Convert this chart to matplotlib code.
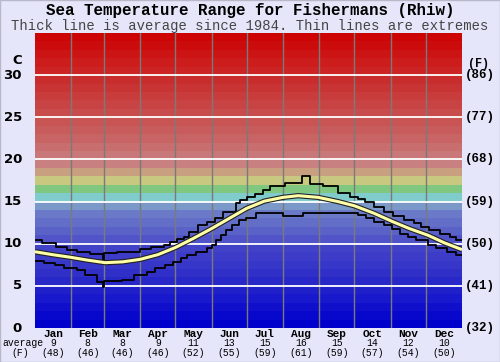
import matplotlib
matplotlib.use("Agg")
import matplotlib.pyplot as plt
import matplotlib.patheffects as pe
from matplotlib.patches import Rectangle

# ---------------- data ----------------
months = ["Jan", "Feb", "Mar", "Apr", "May", "Jun", "Jul", "Aug", "Sep", "Oct", "Nov", "Dec"]
month_avg_c = ["9", "8", "8", "9", "11", "13", "15", "16", "15", "14", "12", "10"]
month_avg_f = ["(48)", "(46)", "(46)", "(46)", "(52)", "(55)", "(59)", "(61)", "(59)", "(57)", "(54)", "(50)"]
month_starts = [0, 31, 59, 90, 120, 151, 181, 212, 243, 273, 304, 334, 365]

c_ticks = [0, 5, 10, 15, 20, 25, 30]
f_labels = ["(32)", "(41)", "(50)", "(59)", "(68)", "(77)", "(86)"]

max_days = [0, 6, 18, 27, 36, 47, 58, 59, 70, 90, 99, 110, 115, 121, 127, 132, 139, 147, 154,
            161, 172, 175, 181, 188, 195, 201, 214, 228, 235, 246, 259, 269, 276, 282, 290,
            298, 306, 315, 324, 330, 337, 346, 355, 360, 365]
max_vals = [10.4, 10.1, 9.6, 9.25, 9.05, 8.8, 8.1, 8.85, 9.05, 9.35, 9.6, 9.9, 10.2, 10.6, 10.8,
            11.4, 12.2, 12.6, 13.1, 13.8, 14.8, 15.2, 15.6, 15.9, 16.4, 16.9, 17.2, 18.0, 17.1,
            16.85, 16.05, 15.6, 15.3, 15.0, 14.4, 13.8, 13.3, 12.8, 12.4, 12.0, 11.6, 11.2,
            10.8, 10.5, 10.5]

min_days = [0, 8, 17, 25, 36, 43, 53, 58, 59, 74, 85, 96, 103, 111, 118, 125, 130, 138, 147,
            151, 155, 159, 163, 168, 174, 180, 189, 212, 229, 246, 276, 283, 290, 298, 305,
            312, 319, 326, 336, 343, 352, 360, 365]
min_vals = [7.9, 7.7, 7.45, 7.1, 6.9, 6.3, 5.5, 4.9, 5.6, 5.75, 6.3, 6.6, 7.1, 7.45, 7.85, 8.25,
            8.65, 9.05, 9.45, 9.85, 10.4, 11.0, 11.6, 12.2, 12.8, 13.1, 13.6, 13.3, 13.7, 13.6,
            13.35, 13.0, 12.6, 12.2, 11.7, 11.2, 10.8, 10.4, 9.9, 9.45, 9.05, 8.65, 8.65]

avg_days = [0, 15, 30, 45, 60, 75, 90, 105, 120, 135, 151, 166, 181, 196, 212, 225, 242, 259,
            273, 290, 306, 320, 336, 350, 365]
avg_vals = [9.05, 8.7, 8.4, 8.05, 7.75, 7.85, 8.15, 8.7, 9.55, 10.6, 11.8, 13.0, 14.2, 15.05,
            15.5, 15.7, 15.5, 15.0, 14.5, 13.6, 12.6, 11.8, 11.0, 10.1, 9.3]

# band colours (1 degree each, 0..35)
band_rgb = [
    (0, 0, 204), (8, 8, 204), (16, 16, 204), (24, 24, 204), (32, 32, 202), (40, 40, 200),
    (48, 48, 200), (54, 54, 200), (60, 60, 200), (66, 66, 200), (80, 84, 200), (90, 98, 200),
    (98, 110, 200), (106, 122, 200), (122, 152, 200), (128, 204, 204), (128, 200, 128),
    (200, 200, 128), (200, 160, 128), (200, 128, 128), (200, 120, 120), (200, 110, 110),
    (200, 100, 100), (200, 92, 92), (200, 84, 84), (200, 76, 76), (200, 68, 68), (200, 60, 60),
    (200, 52, 52), (200, 44, 44), (204, 36, 36), (204, 28, 28), (204, 20, 20), (204, 12, 12),
    (204, 4, 4), (204, 0, 0),
]

# ---------------- figure ----------------
bg = "#e6e6fa"
fig = plt.figure(figsize=(5.0, 3.62), dpi=100, facecolor=bg)
ax = fig.add_axes([35 / 500, 34 / 362, 427 / 500, 295 / 362])
ax.set_xlim(0, 365)
ax.set_ylim(0, 35)
ax.axis("off")

for i, (r, g, b) in enumerate(band_rgb[:35]):
    ax.axhspan(i, i + 1, color=(r / 255, g / 255, b / 255), lw=0, zorder=0)

for d in month_starts[1:-1]:
    ax.axvline(d, color="#7a7a7a", lw=1.0, zorder=1)
for t in c_ticks[1:]:
    ax.axhline(t, color="white", lw=1.3, zorder=1)

ax.plot(max_days, max_vals, drawstyle="steps-post", color="black", lw=1.3, zorder=3)
ax.plot(min_days, min_vals, drawstyle="steps-post", color="black", lw=1.3, zorder=3)
ax.plot(avg_days, avg_vals, color="#ffffa8", lw=2.2, zorder=4, solid_capstyle="butt",
        path_effects=[pe.Stroke(linewidth=3.8, foreground="#222222"), pe.Normal()])

mono = ["Liberation Mono", "DejaVu Sans Mono"]

# titles
fig.text(0.5, 1 - 11 / 362, "Sea Temperature Range for Fishermans (Rhiw)", ha="center",
         va="center", family=mono, weight="bold", fontsize=11.4, color="black")
fig.text(0.5, 1 - 26 / 362, "Thick line is average since 1984. Thin lines are extremes",
         ha="center", va="center", family=mono, fontsize=10.0, color="#444444")

# y-axis labels
for t in c_ticks:
    y = ax.transData.transform((0, t))[1]
    fig.text(22 / 500, y / (fig.dpi * 3.62), str(t), ha="right", va="center",
             family="DejaVu Sans", fontsize=9.5, weight="bold", color="black")
fig.text(17 / 500, 1 - 61 / 362, "C", ha="center", va="center", family="DejaVu Sans",
         fontsize=9.5, weight="bold", color="black")
for t, lab in zip(c_ticks, f_labels):
    y = ax.transData.transform((0, t))[1]
    fig.text(465 / 500, y / (fig.dpi * 3.62), lab, ha="left", va="center", family=mono,
             weight="bold", fontsize=9, color="black")
fig.text(478 / 500, 1 - 64 / 362, "(F)", ha="center", va="center", family=mono,
         weight="bold", fontsize=8.5, color="black")

# month labels + averages
for i, m in enumerate(months):
    mid = (month_starts[i] + month_starts[i + 1]) / 2
    x = ax.transData.transform((mid, 0))[0] / 500
    fig.text(x, 1 - 334 / 362, m, ha="center", va="center", family=mono, weight="bold",
             fontsize=8, color="black")
    fig.text(x, 1 - 343.5 / 362, month_avg_c[i], ha="center", va="center", family=mono,
             fontsize=7, color="black")
    fig.text(x, 1 - 352.5 / 362, month_avg_f[i], ha="center", va="center", family=mono,
             fontsize=7, color="black")
fig.text(2 / 500, 1 - 343.5 / 362, "average", ha="left", va="center", family=mono,
         fontsize=7, color="black")
fig.text(20 / 500, 1 - 352.5 / 362, "(F)", ha="center", va="center", family=mono,
         fontsize=7, color="black")

# thin frame round the figure
fig.patches.append(Rectangle((0, 0), 1, 1, transform=fig.transFigure, fill=False,
                             edgecolor="#b8b8c8", lw=1.0))

fig.savefig("out.png", dpi=100, facecolor=bg)
